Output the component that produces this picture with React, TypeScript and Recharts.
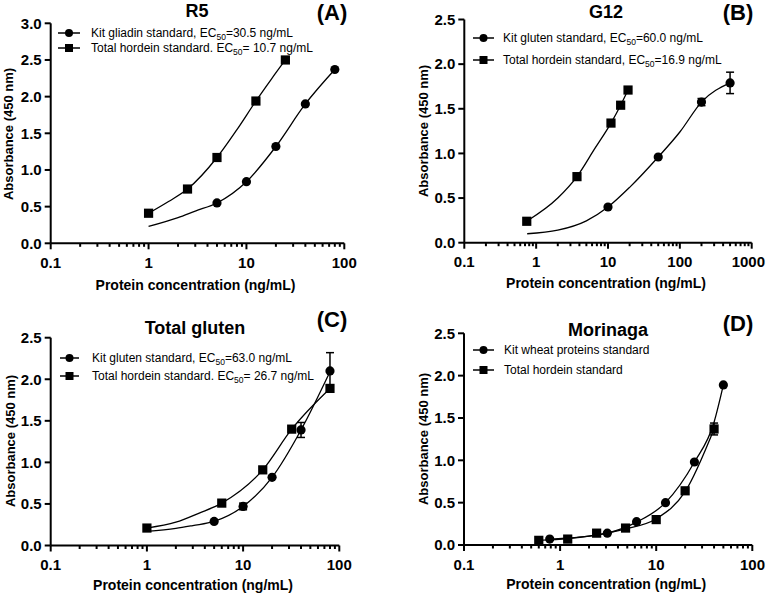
import React from "react";
import { ComposedChart, Scatter, XAxis, YAxis, ErrorBar } from "recharts";

const FONT = "Arial, 'Liberation Sans', Helvetica, sans-serif";

// ---- Panel A: R5 ----
const aKitX = [5, 10, 20, 40, 80];
const aKitY = [0.55, 0.84, 1.32, 1.9, 2.37];
const aHorX = [1, 2.5, 5, 12.5, 25];
const aHorY = [0.41, 0.74, 1.17, 1.94, 2.5];
const aKitFitX = [1, 2, 3, 5, 10, 20, 40, 80];
const aKitFitY = [0.23, 0.35, 0.44, 0.55, 0.84, 1.32, 1.9, 2.37];
const aHorFitX = [1, 1.6, 2.5, 5, 8, 12.5, 18, 25];
const aHorFitY = [0.41, 0.57, 0.74, 1.17, 1.55, 1.94, 2.24, 2.5];

// ---- Panel B: G12 ----
const bKitX = [10, 50, 200, 500];
const bKitY = [0.4, 0.96, 1.575, 1.79];
const bKitErr = [0, 0, 0.04, 0.12];
const bHorX = [0.74, 3.7, 11, 15, 19];
const bHorY = [0.24, 0.74, 1.34, 1.54, 1.71];
const bKitFitX = [0.75, 2, 5, 10, 20, 50, 100, 200, 500];
const bKitFitY = [0.1, 0.14, 0.245, 0.4, 0.62, 0.96, 1.24, 1.575, 1.79];
const bHorFitX = [0.74, 2, 3.7, 6.5, 11, 15, 19];
const bHorFitY = [0.24, 0.5, 0.74, 1.05, 1.34, 1.54, 1.71];

// ---- Panel C: Total gluten ----
const cKitX = [5, 10, 20, 40, 80];
const cKitY = [0.29, 0.47, 0.82, 1.39, 2.1];
const cKitErr = [0, 0.04, 0, 0.09, 0.22];
const cHorX = [1, 6, 16, 32, 80];
const cHorY = [0.21, 0.51, 0.91, 1.4, 1.89];
const cKitFitX = [1, 2, 3, 5, 10, 20, 40, 80];
const cKitFitY = [0.17, 0.205, 0.24, 0.29, 0.47, 0.82, 1.39, 2.09];
const cHorFitX = [1, 2, 3.5, 6, 16, 32, 80];
const cHorFitY = [0.21, 0.28, 0.39, 0.51, 0.91, 1.4, 1.89];

// ---- Panel D: Morinaga ----
const dKitX = [0.78, 3.1, 6.25, 12.5, 25, 50];
const dKitY = [0.07, 0.14, 0.275, 0.5, 0.98, 1.89];
const dHorX = [0.6, 1.2, 2.4, 4.8, 10, 20, 40];
const dHorY = [0.055, 0.07, 0.14, 0.2, 0.3, 0.64, 1.37];
const dHorErr = [0, 0, 0, 0, 0, 0, 0.07];
const dKitFitX = [0.78, 1.5, 3.1, 6.25, 12.5, 25, 40, 50];
const dKitFitY = [0.07, 0.09, 0.14, 0.27, 0.5, 0.98, 1.45, 1.89];
const dHorFitX = [0.6, 1.2, 2.4, 4.8, 10, 20, 40];
const dHorFitY = [0.055, 0.075, 0.12, 0.19, 0.31, 0.63, 1.37];

const xMajors3 = [0.1, 1, 10, 100];
const xMajors4 = [0.1, 1, 10, 100, 1000];
const yTicks30 = [0, 0.5, 1, 1.5, 2, 2.5, 3];
const yTicks25 = [0, 0.5, 1, 1.5, 2, 2.5];

const pts = (xs: number[], ys: number[], errs?: number[]) =>
  xs.map((x, i) => ({ x, y: ys[i], err: errs ? errs[i] : 0 }));

const minorTicks = (majors: number[]) => {
  const out: number[] = [];
  majors.forEach((m, i) => {
    out.push(m);
    if (i < majors.length - 1) for (let k = 2; k <= 9; k++) out.push(m * k);
  });
  return out;
};

const Dot = (p: any) => <circle cx={p.cx} cy={p.cy} r={4.6} fill="#000" />;
const Sq = (p: any) => (
  <rect x={p.cx - 4.6} y={p.cy - 4.6} width={9.2} height={9.2} fill="#000" />
);
const NoDot = () => <g />;

type Leg = { pre: string; sub?: string; post?: string };

const panels = [
  {
    id: "A", title: "R5", box: [0, 0], plot: [50.7, 23.3, 344.3, 243.3],
    titlePos: [197, 10.5], letterPos: [332, 12.5], xTitleY: 285, yTitle: [7.5, 134],
    yMax: 3, yTicks: yTicks30, majors: xMajors3,
    kit: pts(aKitX, aKitY), hor: pts(aHorX, aHorY),
    kitFit: pts(aKitFitX, aKitFitY), horFit: pts(aHorFitX, aHorFitY),
    legRows: [32.7, 47.7], legLine: [58, 80], legText: 91,
    legends: [
      { pre: "Kit gliadin standard, EC", sub: "50", post: "=30.5 ng/mL" },
      { pre: "Total hordein standard. EC", sub: "50", post: "= 10.7 ng/mL" },
    ] as Leg[],
  },
  {
    id: "B", title: "G12", box: [383, 0], plot: [464.3, 19.5, 751.7, 242.7],
    titlePos: [606, 11.5], letterPos: [738, 12.5], xTitleY: 282.5, yTitle: [422.5, 131],
    yMax: 2.5, yTicks: yTicks25, majors: xMajors4,
    kit: pts(bKitX, bKitY, bKitErr), hor: pts(bHorX, bHorY),
    kitFit: pts(bKitFitX, bKitFitY), horFit: pts(bHorFitX, bHorFitY),
    legRows: [38.3, 60], legLine: [473, 494], legText: 503,
    legends: [
      { pre: "Kit gluten standard, EC", sub: "50", post: "=60.0 ng/mL" },
      { pre: "Total hordein standard, EC", sub: "50", post: "=16.9 ng/mL" },
    ] as Leg[],
  },
  {
    id: "C", title: "Total gluten", box: [0, 295], plot: [50.7, 337.7, 339.3, 545.5],
    titlePos: [195, 328], letterPos: [332, 320], xTitleY: 585, yTitle: [9.5, 440.5],
    yMax: 2.5, yTicks: yTicks25, majors: xMajors3,
    kit: pts(cKitX, cKitY, cKitErr), hor: pts(cHorX, cHorY),
    kitFit: pts(cKitFitX, cKitFitY), horFit: pts(cHorFitX, cHorFitY),
    legRows: [358.3, 376], legLine: [60, 79], legText: 92,
    legends: [
      { pre: "Kit gluten standard, EC", sub: "50", post: "=63.0 ng/mL" },
      { pre: "Total hordein standard. EC", sub: "50", post: "= 26.7 ng/mL" },
    ] as Leg[],
  },
  {
    id: "D", title: "Morinaga", box: [383, 295], plot: [464, 333.3, 752.3, 545],
    titlePos: [608, 330], letterPos: [738, 324], xTitleY: 584, yTitle: [422.5, 438.5],
    yMax: 2.5, yTicks: yTicks25, majors: xMajors3,
    kit: pts(dKitX, dKitY), hor: pts(dHorX, dHorY, dHorErr),
    kitFit: pts(dKitFitX, dKitFitY), horFit: pts(dHorFitX, dHorFitY),
    legRows: [350, 370], legLine: [473, 494], legText: 504,
    legends: [
      { pre: "Kit wheat proteins standard" },
      { pre: "Total hordein standard" },
    ] as Leg[],
  },
];

const W = 383;
const H = 300;
const YW = 40;
const XH = 30;

const renderXTick = (p: any, majors: number[]) => {
  const v = p.payload.value;
  const major = majors.some((m) => Math.abs(m - v) / m < 1e-6);
  const label = String(v);
  const half = label.length * 4.3;
  // keep the last label inside the figure
  const tooFar = p.x + half > W - 1;
  return (
    <g>
      <line x1={p.x} x2={p.x} y1={p.y} y2={p.y + (major ? 6 : 3.5)} stroke="#000" strokeWidth={2} />
      {major && (
        <text
          x={tooFar ? W - 1 : p.x}
          y={p.y + 24.5}
          textAnchor={tooFar ? "end" : "middle"}
          fontSize={15}
          fontWeight={700}
          fontFamily={FONT}
          fill="#000"
        >
          {label}
        </text>
      )}
    </g>
  );
};

const Panel = ({ cfg }: { cfg: (typeof panels)[number] }) => {
  const [bx, by] = cfg.box;
  const [pl, pt, pr, pb] = cfg.plot;
  const margin = {
    left: pl - bx - YW,
    top: pt - by,
    right: bx + W - pr,
    bottom: by + H - pb - XH,
  };
  const xMax = cfg.majors[cfg.majors.length - 1];
  const lineStyle = { stroke: "#000", strokeWidth: 1.3, fill: "none" };
  return (
    <div style={{ position: "absolute", left: bx, top: by, width: W, height: H }}>
      <ComposedChart width={W} height={H} margin={margin}>
        <XAxis
          dataKey="x"
          type="number"
          scale="log"
          domain={[0.1, xMax]}
          ticks={minorTicks(cfg.majors)}
          interval={0}
          allowDataOverflow
          height={XH}
          tickSize={0}
          tickMargin={0}
          tickLine={false}
          axisLine={{ stroke: "#000", strokeWidth: 2 }}
          tick={(p: any) => renderXTick(p, cfg.majors)}
        />
        <YAxis
          dataKey="y"
          type="number"
          domain={[0, cfg.yMax]}
          ticks={cfg.yTicks}
          interval={0}
          allowDataOverflow
          width={YW}
          tickSize={6}
          tickMargin={3}
          tickLine={{ stroke: "#000", strokeWidth: 2 }}
          axisLine={{ stroke: "#000", strokeWidth: 2 }}
          tick={{ fill: "#000", fontSize: 15, fontWeight: 700, fontFamily: FONT }}
          tickFormatter={(v: number) => v.toFixed(1)}
        />
        <Scatter data={cfg.kitFit} dataKey="y" line={lineStyle} lineType="joint" lineJointType="monotoneX" shape={NoDot} isAnimationActive={false} />
        <Scatter data={cfg.horFit} dataKey="y" line={lineStyle} lineType="joint" lineJointType="monotoneX" shape={NoDot} isAnimationActive={false} />
        <Scatter data={cfg.hor} dataKey="y" shape={Sq} isAnimationActive={false}>
          <ErrorBar dataKey="err" direction="y" width={4} stroke="#000" strokeWidth={1.5} />
        </Scatter>
        <Scatter data={cfg.kit} dataKey="y" shape={Dot} isAnimationActive={false}>
          <ErrorBar dataKey="err" direction="y" width={4} stroke="#000" strokeWidth={1.5} />
        </Scatter>
      </ComposedChart>
    </div>
  );
};

const abs = (x: number, y: number, extra: React.CSSProperties = {}): React.CSSProperties => ({
  position: "absolute",
  left: x,
  top: y,
  transform: "translate(-50%, -50%)",
  whiteSpace: "nowrap",
  lineHeight: 1,
  ...extra,
});

const Texts = ({ cfg }: { cfg: (typeof panels)[number] }) => {
  const [lx1, lx2] = cfg.legLine;
  const mid = (lx1 + lx2) / 2;
  return (
    <>
      <div style={abs(cfg.titlePos[0], cfg.titlePos[1], { fontSize: 18, fontWeight: 700 })}>{cfg.title}</div>
      <div style={abs(cfg.letterPos[0], cfg.letterPos[1], { fontSize: 22, fontWeight: 700 })}>({cfg.id})</div>
      <div style={abs((cfg.plot[0] + cfg.plot[2]) / 2 - 2, cfg.xTitleY, { fontSize: 14, fontWeight: 700 })}>
        Protein concentration (ng/mL)
      </div>
      <div
        style={abs(cfg.yTitle[0], cfg.yTitle[1], {
          fontSize: 13,
          fontWeight: 700,
          transform: "translate(-50%, -50%) rotate(-90deg)",
        })}
      >
        Absorbance (450 nm)
      </div>
      {cfg.legends.map((l, i) => {
        const y = cfg.legRows[i];
        return (
          <React.Fragment key={i}>
            <svg style={{ position: "absolute", left: lx1, top: y - 5, overflow: "visible" }} width={lx2 - lx1} height={10}>
              <line x1={0} x2={lx2 - lx1} y1={5} y2={5} stroke="#000" strokeWidth={1.5} />
              {i === 0 ? (
                <circle cx={mid - lx1} cy={5} r={4} fill="#000" />
              ) : (
                <rect x={mid - lx1 - 4} y={1} width={8} height={8} fill="#000" />
              )}
            </svg>
            <div
              style={{
                position: "absolute",
                left: cfg.legText,
                top: y,
                transform: "translateY(-50%)",
                fontSize: 12,
                lineHeight: 1,
                whiteSpace: "nowrap",
              }}
            >
              {l.pre}
              {l.sub && <span style={{ fontSize: 8.5, position: "relative", top: 3 }}>{l.sub}</span>}
              {l.post}
            </div>
          </React.Fragment>
        );
      })}
    </>
  );
};

export default function App() {
  return (
    <div
      style={{
        position: "absolute",
        left: 0,
        top: 0,
        width: 766,
        height: 595,
        background: "#fff",
        color: "#000",
        fontFamily: FONT,
        overflow: "hidden",
      }}
    >
      {panels.map((p) => (
        <Panel key={p.id} cfg={p} />
      ))}
      {panels.map((p) => (
        <Texts key={"t" + p.id} cfg={p} />
      ))}
    </div>
  );
}
